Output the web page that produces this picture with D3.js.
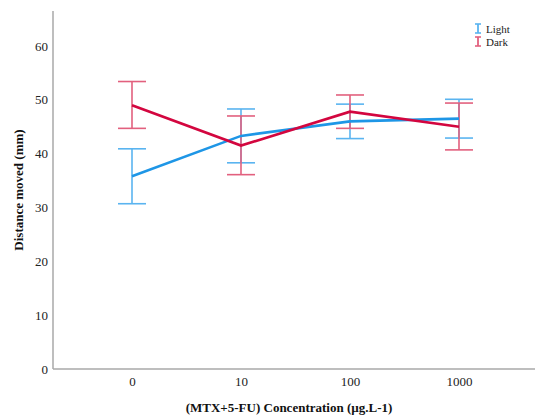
<!DOCTYPE html>
<html><head><meta charset="utf-8">
<script src="https://cdn.jsdelivr.net/npm/d3@7"></script>
<style>body{margin:0;background:#fff}svg{display:block}text{font-family:"Liberation Serif","Times New Roman",serif}</style>
</head><body><svg id="c" width="535" height="416"></svg>
<script>
const categories = ["0","10","100","1000"];
const lightMean = [35.8, 43.3, 46.0, 46.5];
const lightLow  = [30.7, 38.3, 42.8, 42.9];
const lightHigh = [40.9, 48.3, 49.2, 50.1];
const darkMean  = [49.0, 41.5, 47.8, 45.0];
const darkLow   = [44.7, 36.1, 44.7, 40.7];
const darkHigh  = [53.4, 47.0, 50.9, 49.4];
const yTicks = [0,10,20,30,40,50,60];

const svg = d3.select("#c");
const L = 53, R = 535, T = 11, B = 369;
const x = d3.scalePoint().domain(categories).range([132, 459]).padding(0);
const y = d3.scaleLinear().domain([0, 66.5]).range([B, T]);

// axes
const ya = svg.append("g").attr("transform", `translate(${L},0)`)
  .call(d3.axisLeft(y).tickValues(yTicks).tickSize(0).tickPadding(5).tickFormat(d3.format("d")));
const xa = svg.append("g").attr("transform", `translate(0,${B})`)
  .call(d3.axisBottom(x).tickSize(0).tickPadding(8));
[ya, xa].forEach(g => {
  g.select(".domain").attr("stroke", "#a8a8a8").attr("stroke-width", 1.5);
  g.selectAll("text").attr("font-size", 13).attr("fill", "#222").style("font-family", '"Liberation Serif",serif');
});
ya.select(".domain").attr("d", `M0,${B}V${T}`);
xa.select(".domain").attr("d", `M${L},0H${R}`);

svg.append("text").attr("transform", `translate(23,190) rotate(-90)`)
  .attr("text-anchor", "middle").attr("font-size", 13).attr("font-weight", "bold").attr("fill", "#111")
  .text("Distance moved (mm)");
svg.append("text").attr("x", 289).attr("y", 412).attr("text-anchor", "middle")
  .attr("font-size", 13).attr("font-weight", "bold").attr("fill", "#111")
  .text("(MTX+5-FU) Concentration (µg.L-1)");

const series = [
  {name: "Light", mean: lightMean, lo: lightLow, hi: lightHigh, line: "#1e96e6", err: "#5ab4f0"},
  {name: "Dark",  mean: darkMean,  lo: darkLow,  hi: darkHigh,  line: "#d3063f", err: "#e2607e"}
];
const cap = 14;
series.forEach(s => {
  const g = svg.append("g");
  categories.forEach((c, i) => {
    const cx = x(c);
    g.append("line").attr("x1", cx).attr("x2", cx).attr("y1", y(s.lo[i])).attr("y2", y(s.hi[i]))
      .attr("stroke", s.err).attr("stroke-width", 1.6);
    [s.lo[i], s.hi[i]].forEach(v => g.append("line").attr("x1", cx - cap).attr("x2", cx + cap)
      .attr("y1", y(v)).attr("y2", y(v)).attr("stroke", s.err).attr("stroke-width", 1.6));
  });
});
series.forEach(s => {
  svg.append("path").datum(categories.map((c, i) => [x(c), y(s.mean[i])]))
    .attr("d", d3.line()).attr("fill", "none").attr("stroke", s.line).attr("stroke-width", 2.6);
});

// legend
series.forEach((s, i) => {
  const ly = 29 + i * 13;
  const lg = svg.append("g");
  lg.append("line").attr("x1", 478).attr("x2", 478).attr("y1", ly - 5).attr("y2", ly + 4).attr("stroke", s.err).attr("stroke-width", 1.8);
  lg.append("line").attr("x1", 475).attr("x2", 481).attr("y1", ly - 5).attr("y2", ly - 5).attr("stroke", s.err).attr("stroke-width", 1.6);
  lg.append("line").attr("x1", 475).attr("x2", 481).attr("y1", ly + 4).attr("y2", ly + 4).attr("stroke", s.err).attr("stroke-width", 1.6);
  lg.append("text").attr("x", 486).attr("y", ly + 4).attr("font-size", 11).attr("fill", "#222").text(s.name);
});
</script></body></html>
